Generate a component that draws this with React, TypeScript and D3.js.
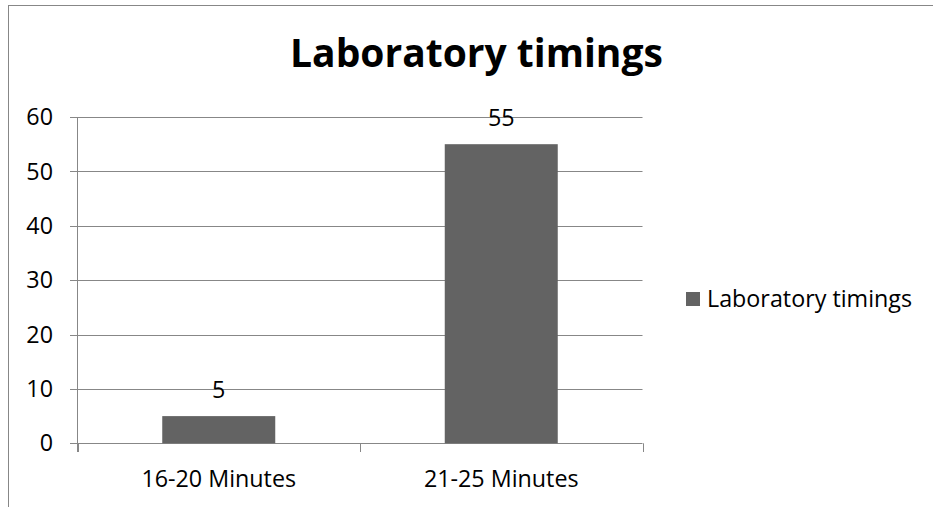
import React from "react";
import * as d3 from "d3";

const categories = ["16-20 Minutes", "21-25 Minutes"];
const values = [5, 55];
const yTicks = [0, 10, 20, 30, 40, 50, 60];
const seriesName = "Laboratory timings";
const titleText = "Laboratory timings";

const W = 933;
const H = 507;
const FONT = "'Open Sans', sans-serif";
const FS = 23.3;

export default function App() {
  const left = 77.5;
  const right = 642.5;
  const top = 117;
  const bottom = 443.3;

  const x = d3.scaleBand<string>().domain(categories).range([left, right]).paddingInner(0.6).paddingOuter(0.3);
  const xb = d3.scaleBand<string>().domain(categories).range([left, right]);
  const y = d3.scaleLinear().domain([0, 60]).range([bottom, top]);
  const grid = "#878787";
  const barColor = "#636363";

  return (
    <div style={{ position: "fixed", left: 0, top: 0, width: W, height: H, background: "#fff" }}>
      <svg width={W} height={H} style={{ display: "block" }}>
        <rect x={8.5} y={5.5} width={1000} height={600} fill="#fff" stroke={grid} strokeWidth={1} />
        <text x={476.5} y={67} textAnchor="middle" fontFamily={FONT} fontWeight="bold" fontSize={39} fill="#000">
          {titleText}
        </text>
        {yTicks.map((t) => (
          <g key={t}>
            <line x1={70} x2={right} y1={Math.round(y(t)) + 0.5} y2={Math.round(y(t)) + 0.5} stroke={grid} strokeWidth={1} />
            <text x={53} y={y(t)} dy="0.35em" textAnchor="end" fontFamily={FONT} fontSize={FS} fill="#000">
              {t}
            </text>
          </g>
        ))}
        <line x1={left} x2={left} y1={top} y2={452} stroke={grid} strokeWidth={1} />
        {[...categories.map((c) => xb(c)!), right].map((xv, i) => (
          <line key={i} x1={Math.round(xv) + 0.5} x2={Math.round(xv) + 0.5} y1={bottom} y2={452} stroke={grid} strokeWidth={1} />
        ))}
        {categories.map((c, i) => (
          <g key={c}>
            <rect x={x(c)!} y={y(values[i])} width={x.bandwidth()} height={y(0) - y(values[i])} fill={barColor} />
            <text x={x(c)! + x.bandwidth() / 2} y={y(values[i]) - 18.5} textAnchor="middle" fontFamily={FONT} fontSize={FS} fill="#000">
              {values[i]}
            </text>
            <text x={xb(c)! + xb.bandwidth() / 2} y={487} textAnchor="middle" fontFamily={FONT} fontSize={FS} fill="#000">
              {c}
            </text>
          </g>
        ))}
        <rect x={686} y={292} width={14} height={14} fill={barColor} />
        <text x={707} y={307} fontFamily={FONT} fontSize={FS} fill="#000">
          {seriesName}
        </text>
      </svg>
    </div>
  );
}
